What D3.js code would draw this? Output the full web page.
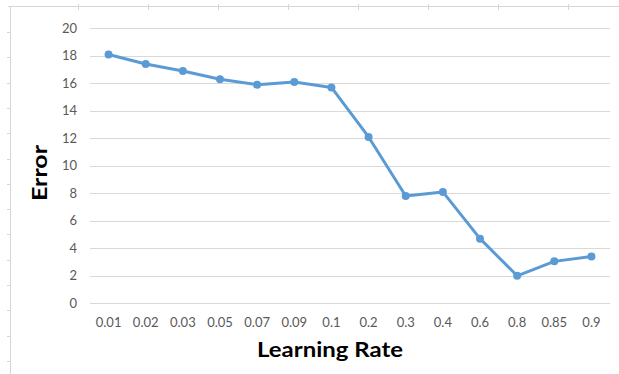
<!DOCTYPE html>
<html>
<head>
<meta charset="utf-8">
<script src="https://cdn.jsdelivr.net/npm/d3@7"></script>
<style>
  html, body { margin: 0; padding: 0; background: #fff; }
  svg { display: block; }
</style>
</head>
<body>
<svg id="chart" width="619" height="374"></svg>
<script>
// Learning-rate sweep: error at each rate
const rates = ["0.01", "0.02", "0.03", "0.05", "0.07", "0.09", "0.1", "0.2", "0.3", "0.4", "0.6", "0.8", "0.85", "0.9"];
const errors = [18.1, 17.4, 16.9, 16.3, 15.9, 16.1, 15.7, 12.1, 7.8, 8.1, 4.7, 2.0, 3.05, 3.4];
const yTicks = [0, 2, 4, 6, 8, 10, 12, 14, 16, 18, 20];

const svg = d3.select("#chart");
const W = 619, H = 374;
const m = { left: 90, right: 9, top: 28.3, bottom: 70 };
const font = "Lato, 'Open Sans', sans-serif";

// faint page frame with ruler ticks along top and left
const frame = svg.append("g").attr("stroke", "#d6d6d6").attr("stroke-width", 1);
frame.append("line").attr("x1", 8).attr("x2", W).attr("y1", 6.5).attr("y2", 6.5);
frame.append("line").attr("x1", 10.5).attr("x2", 10.5).attr("y1", 6).attr("y2", H);
d3.range(78, W, 70).forEach(x => {
  frame.append("line").attr("x1", x + 0.5).attr("x2", x + 0.5).attr("y1", 4).attr("y2", 10);
});
d3.range(32, H, 25.3).forEach(y => {
  frame.append("line").attr("x1", 7).attr("x2", 10).attr("y1", Math.round(y) + 0.5).attr("y2", Math.round(y) + 0.5);
});

const x = d3.scaleBand().domain(rates).range([m.left, W - m.right]);
const y = d3.scaleLinear().domain([0, 20]).range([H - m.bottom - 0.7, m.top]);

// horizontal gridlines
svg.append("g")
  .selectAll("line")
  .data(yTicks)
  .join("line")
  .attr("x1", m.left).attr("x2", W - m.right)
  .attr("y1", d => Math.round(y(d)) + 0.5).attr("y2", d => Math.round(y(d)) + 0.5)
  .attr("stroke", "#d9d9d9").attr("stroke-width", 1);

// y axis labels
const yAxis = svg.append("g")
  .attr("transform", `translate(${m.left - 13},0)`)
  .call(d3.axisLeft(y).tickValues(yTicks).tickSize(0).tickPadding(0));
yAxis.select(".domain").remove();
yAxis.selectAll("text")
  .attr("font-family", font).attr("font-size", 13).attr("fill", "#595959");

// x axis labels
const xAxis = svg.append("g")
  .attr("transform", `translate(0,${y(0)})`)
  .call(d3.axisBottom(x).tickSize(0).tickPadding(14));
xAxis.select(".domain").remove();
xAxis.selectAll("text")
  .attr("font-family", font).attr("font-size", 13).attr("fill", "#595959");

// series line and markers
const cx = d => x(d) + x.bandwidth() / 2;
const line = d3.line().x((d, i) => cx(rates[i])).y(d => y(d));
svg.append("path")
  .datum(errors)
  .attr("d", line)
  .attr("fill", "none")
  .attr("stroke", "#5B9BD5")
  .attr("stroke-width", 3)
  .attr("stroke-linejoin", "round");
svg.append("g")
  .selectAll("circle")
  .data(errors)
  .join("circle")
  .attr("cx", (d, i) => cx(rates[i]))
  .attr("cy", d => y(d))
  .attr("r", 4)
  .attr("fill", "#5B9BD5");

// axis titles
svg.append("text")
  .attr("x", 330).attr("y", 357)
  .attr("text-anchor", "middle")
  .attr("font-family", font).attr("font-size", 21).attr("font-weight", "bold")
  .attr("fill", "#000")
  .attr("textLength", 146).attr("lengthAdjust", "spacingAndGlyphs")
  .text("Learning Rate");
svg.append("text")
  .attr("transform", `translate(47,173) rotate(-90)`)
  .attr("text-anchor", "middle")
  .attr("font-family", font).attr("font-size", 21).attr("font-weight", "bold")
  .attr("fill", "#000")
  .attr("textLength", 56).attr("lengthAdjust", "spacingAndGlyphs")
  .text("Error");
</script>
</body>
</html>
